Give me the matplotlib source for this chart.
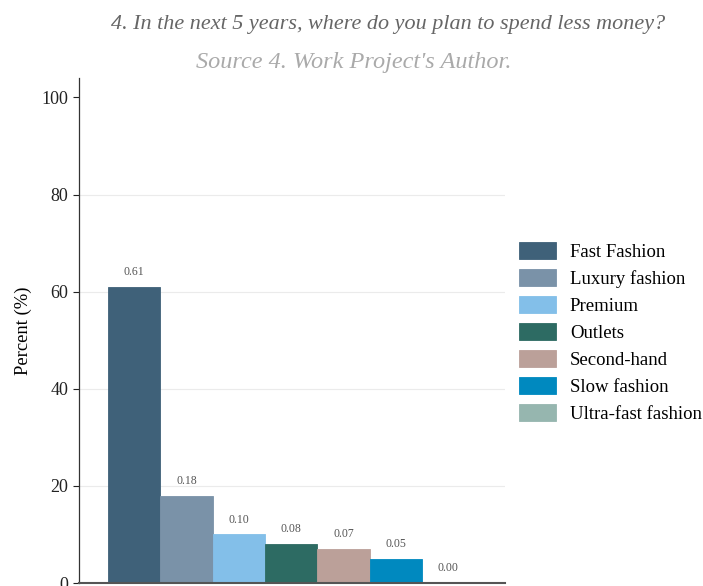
import matplotlib.pyplot as plt

categories = ["Fast Fashion", "Luxury fashion", "Premium", "Outlets",
              "Second-hand", "Slow fashion", "Ultra-fast fashion"]
shares = [0.61, 0.18, 0.10, 0.08, 0.07, 0.05, 0.00]
colors = ["#3f6179", "#7a92a8", "#83bfe9", "#2d6b63",
          "#bba099", "#0089bf", "#96b6af"]
yticks = [0, 20, 40, 60, 80, 100]

plt.rcParams['font.family'] = ['Liberation Serif', 'DejaVu Serif']

fig = plt.figure(figsize=(7.03, 5.86), dpi=100)
ax = fig.add_axes([0.1124, 0.005, 0.606, 0.862])

for i, (name, v, c) in enumerate(zip(categories, shares, colors)):
    ax.bar(i, v * 100, width=1.0, color=c, label=name,
           edgecolor=c, linewidth=0.6)
    ax.text(i, v * 100 + 1.8, f"{v:.2f}", ha='center', va='bottom',
            fontsize=8.5, color='#555555')

ax.set_xlim(-1.055, 7.09)
ax.set_ylim(0, 104)
ax.set_yticks(yticks)
ax.set_xticks([])
ax.tick_params(axis='y', labelsize=13, length=4, width=0.8, colors='#222222')
ax.yaxis.grid(True, color='#ebebeb', linewidth=0.8)
ax.get_ygridlines()[-1].set_visible(False)
ax.set_axisbelow(True)
ax.set_ylabel("Percent (%)", fontsize=13.4, labelpad=7)

for side in ['top', 'right']:
    ax.spines[side].set_visible(False)
ax.spines['left'].set_color('#333333')
ax.spines['left'].set_linewidth(0.9)
ax.spines['bottom'].set_color('#555555')
ax.spines['bottom'].set_linewidth(1.5)

fig.legend(loc='upper left', bbox_to_anchor=(0.714, 0.615), frameon=False,
           fontsize=13.5, handlelength=1.97, handleheight=1.0,
           labelspacing=0.43, handletextpad=0.75)

fig.text(0.5526, 0.959, "4. In the next 5 years, where do you plan to spend less money?",
         ha='center', va='center', fontsize=15.9, style='italic', color='#666666')
fig.text(0.5036, 0.894, "Source 4. Work Project's Author.",
         ha='center', va='center', fontsize=17.5, style='italic', color='#aaaaaa')

fig.savefig("out.png", dpi=100)
